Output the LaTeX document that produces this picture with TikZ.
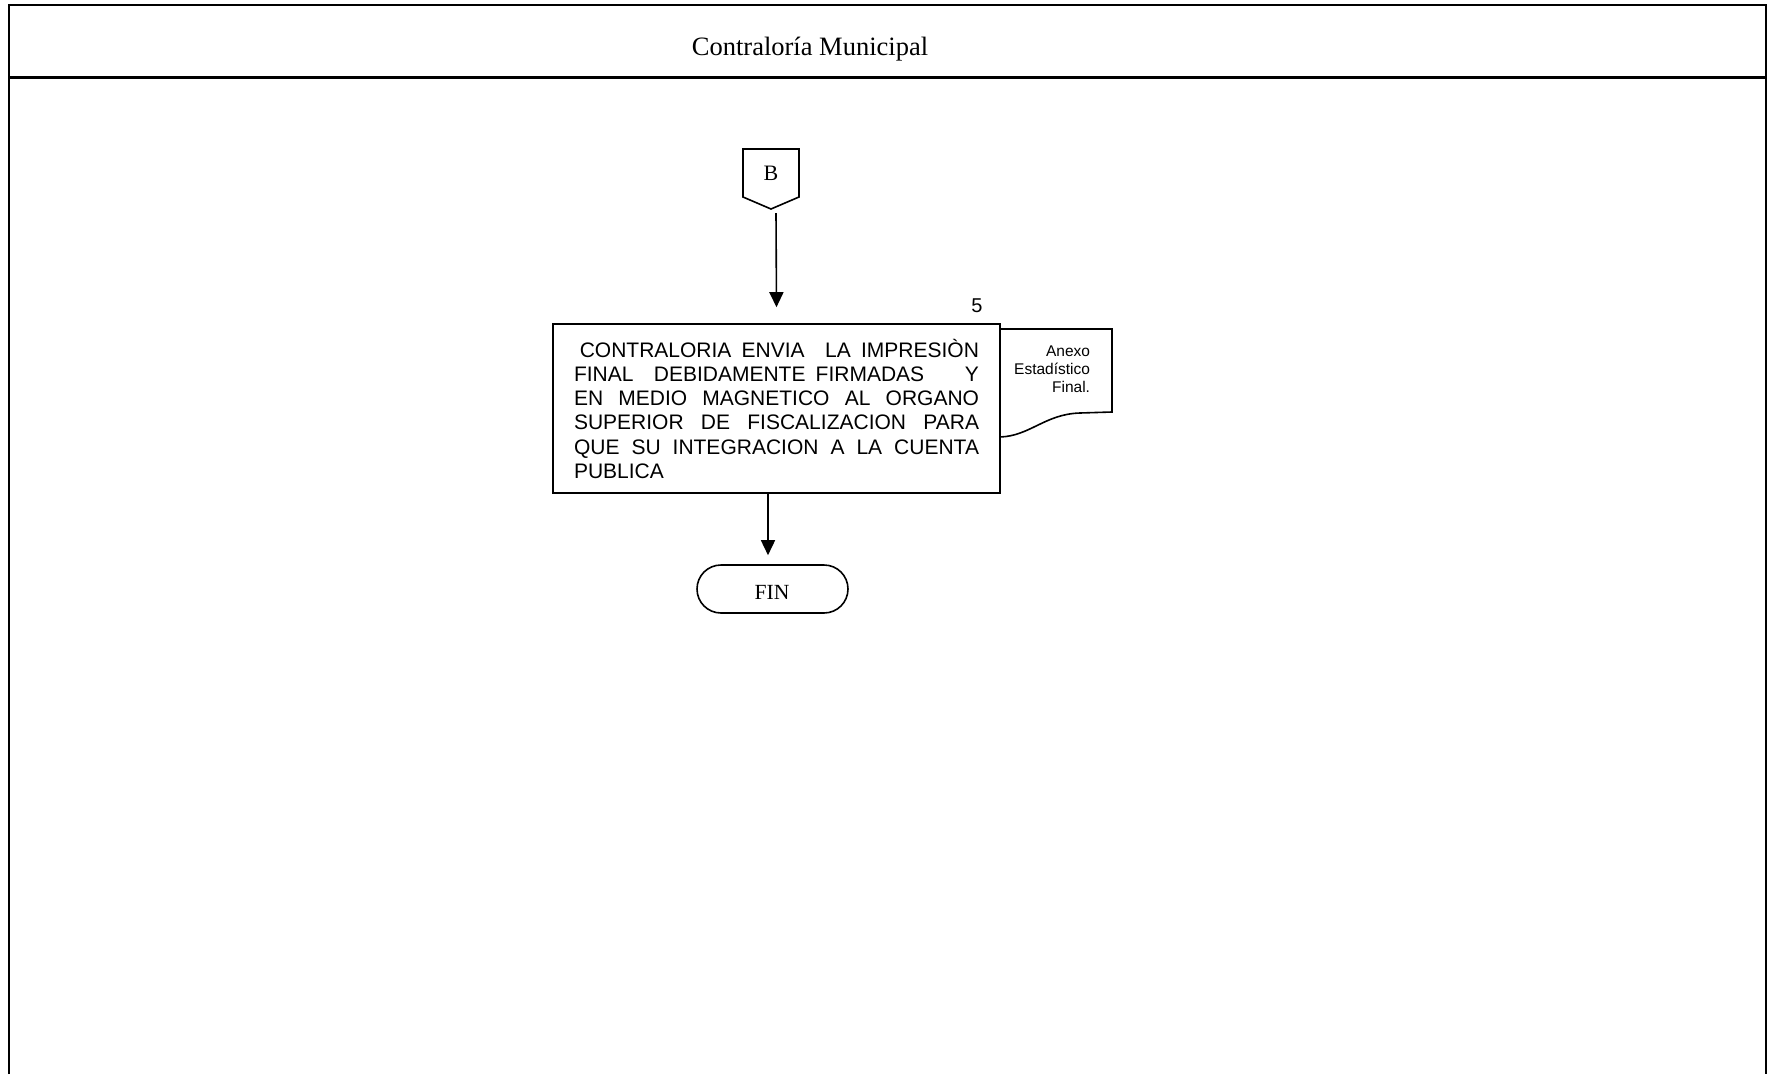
\documentclass[tikz,border=0pt]{standalone}
\usepackage{fontspec}
\setmainfont{Liberation Serif}
\newfontfamily\arialf{Liberation Sans}
\usetikzlibrary{arrows.meta}
\tikzset{
  shapeline/.style={line width=1.6pt, draw=black},
  framel/.style={line width=2pt, draw=black},
  arr/.style={line width=1.6pt, -{Triangle[length=15pt,width=14pt]}},
  plain/.style={inner sep=0pt, outer sep=0pt},
}
\begin{document}
\begin{tikzpicture}[x=1pt,y=-1pt]
\useasboundingbox (0,0) rectangle (1773,1074);
% frame
\draw[framel] (9,1074) -- (9,5) -- (1766,5) -- (1766,1074);
\draw[line width=2.4pt] (9,77.5) -- (1766,77.5);
\node[plain, anchor=base, font=\fontsize{26.5}{30}\selectfont] (title) at (810,55) {Contraloría Municipal};

% off-page connector B
\draw[shapeline] (743,149) -- (799,149) -- (799,197) -- (771,209) -- (743,197) -- cycle;
\node[plain, font=\fontsize{22}{26}\selectfont] (B) at (771,173) {B};
\coordinate (Bout) at (776,213);

% process box
\node[shapeline, rectangle, minimum width=447pt, minimum height=169pt, inner sep=0pt] (proc) at (776.5,408.5) {};
\node[plain, anchor=base west] (proctext) at (574,357)
 {\parbox[t]{405pt}{\arialf\fontsize{21}{24.3}\selectfont\hspace*{5.8pt}CONTRALORIA ENVIA\ \ LA IMPRESIÒN\linebreak
 FINAL\ \ DEBIDAMENTE FIRMADAS\ \ \ \ Y\linebreak
 EN MEDIO MAGNETICO AL ORGANO\linebreak
 SUPERIOR DE FISCALIZACION PARA\linebreak
 QUE SU INTEGRACION A LA CUENTA\linebreak
 PUBLICA}};
\node[plain, anchor=base, font=\arialf\fontsize{20}{24}\selectfont] (num) at (977,312) {5};

% document shape
\draw[shapeline] (1000,329) -- (1112,329) -- (1112,412) -- (1080,413)
  .. controls (1045,414) and (1030,436) .. (1000,437) -- cycle;
\node[plain, anchor=base east] (doctext) at (1090,356)
 {\arialf\fontsize{15.5}{18}\selectfont\begin{tabular}[t]{@{}r@{}}Anexo\\ Estadístico\\ Final.\end{tabular}};

% terminal FIN
\node[shapeline, rectangle, rounded corners=24pt, minimum width=151pt, minimum height=48pt, inner sep=0pt] (fin) at (772.5,589) {};
\node[plain, font=\fontsize{21.6}{26}\selectfont] (fintext) at (772,592) {FIN};

% connectors
\draw[arr] (Bout) -- ([yshift=16pt]proc.north);
\draw[arr] ([xshift=-8.5pt]proc.south) -- ([xshift=-4.5pt,yshift=9pt]fin.north);
\end{tikzpicture}
\end{document}
